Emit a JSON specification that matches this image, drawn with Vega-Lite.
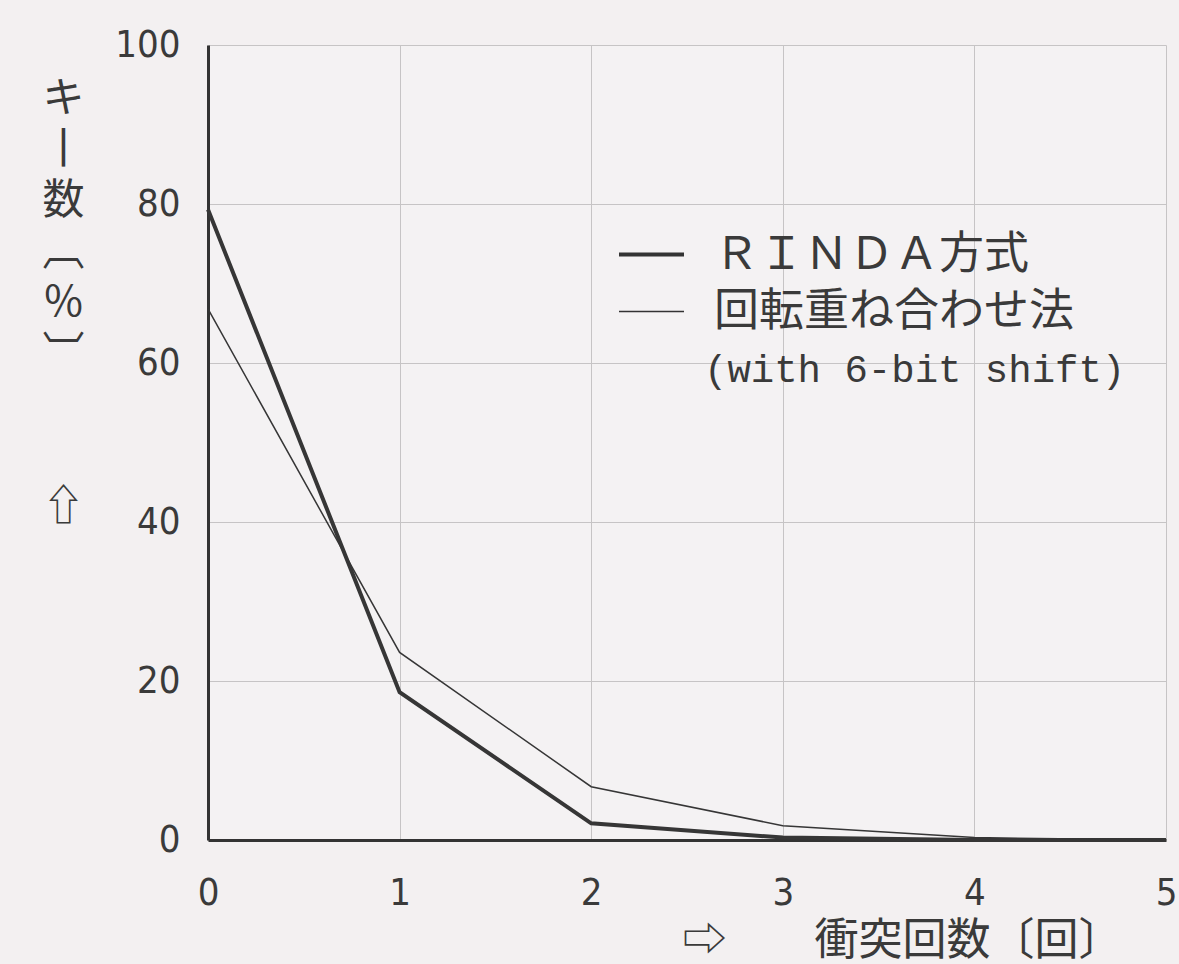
{
  "$schema": "https://vega.github.io/schema/vega-lite/v6.json",
  "autosize": "none",
  "width": 958,
  "height": 795,
  "padding": {"left": 208, "top": 45, "right": 13, "bottom": 124},
  "background": "#f3f0f1",
  "config": {
    "view": {"stroke": null, "fill": "#f4f2f3"}
  },
  "data": {
    "values": [
      {"collisions": 0, "pct": 79.3, "series": "RINDA"},
      {"collisions": 1, "pct": 18.6, "series": "RINDA"},
      {"collisions": 2, "pct": 2.1, "series": "RINDA"},
      {"collisions": 3, "pct": 0.3, "series": "RINDA"},
      {"collisions": 4, "pct": 0.0, "series": "RINDA"},
      {"collisions": 5, "pct": 0.0, "series": "RINDA"},
      {"collisions": 0, "pct": 66.8, "series": "ROT"},
      {"collisions": 1, "pct": 23.6, "series": "ROT"},
      {"collisions": 2, "pct": 6.7, "series": "ROT"},
      {"collisions": 3, "pct": 1.8, "series": "ROT"},
      {"collisions": 4, "pct": 0.3, "series": "ROT"},
      {"collisions": 5, "pct": 0.0, "series": "ROT"}
    ]
  },
  "mark": {"type": "line", "color": "#363636", "clip": false},
  "encoding": {
    "x": {
      "field": "collisions",
      "type": "quantitative",
      "scale": {"domain": [0, 5], "nice": false, "zero": false},
      "axis": {
        "values": [0, 1, 2, 3, 4, 5],
        "grid": true,
        "gridColor": "#c6c4c5",
        "gridWidth": 1,
        "domainColor": "#333333",
        "domainWidth": 3,
        "ticks": false,
        "labelFont": "DejaVu Sans Condensed, Liberation Sans",
        "labelFontSize": 38,
        "labelColor": "#3a3a3a",
        "labelPadding": 34,
        "labelFlush": false,
        "title": "⇨　　衝突回数〔回〕",
        "titleFont": "Noto Sans CJK JP",
        "titleFontSize": 44,
        "titleFontWeight": "normal",
        "titleColor": "#3a3a3a",
        "titleAnchor": "end",
        "titleAlign": "right",
        "titleBaseline": "middle",
        "titleX": 914,
        "titleY": 101
      }
    },
    "y": {
      "field": "pct",
      "type": "quantitative",
      "scale": {"domain": [0, 100], "nice": false},
      "axis": {
        "values": [0, 20, 40, 60, 80, 100],
        "grid": true,
        "gridColor": "#c6c4c5",
        "gridWidth": 1,
        "domainColor": "#333333",
        "domainWidth": 3,
        "ticks": false,
        "labelFont": "DejaVu Sans Condensed, Liberation Sans",
        "labelFontSize": 38,
        "labelColor": "#3a3a3a",
        "labelPadding": 28,
        "labelFlush": false,
        "title": ["キ", "丨", "数", "︹", "%", "︺", "\u2800", "\u2800", "⇧"],
        "titleFont": "Noto Sans CJK JP",
        "titleFontSize": 42,
        "titleFontWeight": "normal",
        "titleColor": "#3a3a3a",
        "titleAngle": 0,
        "titleAlign": "center",
        "titleBaseline": "middle",
        "titleLineHeight": 51,
        "titleX": -145,
        "titleY": 53
      }
    },
    "strokeWidth": {
      "field": "series",
      "type": "nominal",
      "scale": {"domain": ["RINDA", "ROT"], "range": [4, 1.5]},
      "legend": {
        "orient": "none",
        "legendX": 409,
        "legendY": 175,
        "title": "\u2800\u2800\u2800(with 6-bit shift)",
        "titleOrient": "bottom",
        "titleAnchor": "start",
        "titleFont": "Liberation Mono",
        "titleFontSize": 39,
        "titleFontWeight": "normal",
        "titleColor": "#3a3a3a",
        "titleBaseline": "top",
        "titlePadding": 16,
        "titleLimit": 800,
        "symbolType": "stroke",
        "symbolSize": 4225,
        "symbolStrokeColor": "#333333",
        "labelFont": "Noto Sans CJK JP",
        "labelFontSize": 45,
        "labelColor": "#3a3a3a",
        "labelOffset": 28,
        "labelLimit": 600,
        "rowPadding": -10,
        "labelExpr": "datum.label == 'RINDA' ? 'ＲＩＮＤＡ方式' : '回転重ね合わせ法'"
      }
    }
  }
}
